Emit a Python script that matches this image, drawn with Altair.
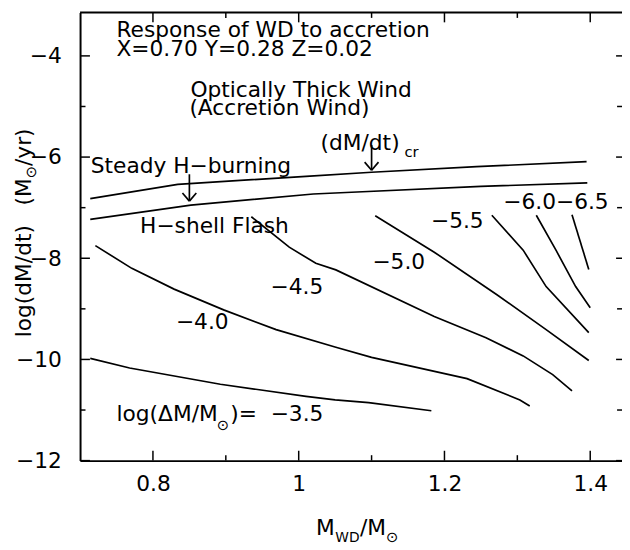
import altair as alt
import pandas as pd

# ---------------- data ----------------
crit_x = [0.714, 0.834, 1.010, 1.100, 1.244, 1.395]
crit_y = [-6.82, -6.54, -6.38, -6.30, -6.19, -6.09]

steady_x = [0.714, 0.852, 1.020, 1.080, 1.250, 1.396]
steady_y = [-7.23, -6.95, -6.73, -6.69, -6.58, -6.51]

c35_x = [0.714, 0.768, 0.8925, 1.010, 1.050, 1.096, 1.182]
c35_y = [-9.98, -10.17, -10.49, -10.73, -10.80, -10.855, -11.015]

c40_x = [0.721, 0.771, 0.829, 0.897, 0.969, 1.051, 1.100, 1.231, 1.3035, 1.317]
c40_y = [-7.75, -8.20, -8.61, -9.02, -9.41, -9.76, -9.96, -10.38, -10.80, -10.92]

c45_x = [0.935, 0.987, 1.0235, 1.051, 1.186, 1.257, 1.308, 1.3485, 1.375]
c45_y = [-7.18, -7.78, -8.10, -8.23, -9.15, -9.57, -9.93, -10.30, -10.62]

c50_x = [1.105, 1.186, 1.272, 1.3395, 1.398]
c50_y = [-7.16, -7.88, -8.72, -9.41, -10.02]

c55_x = [1.265, 1.308, 1.3395, 1.398]
c55_y = [-7.15, -7.84, -8.56, -9.47]

c60_x = [1.326, 1.353, 1.380, 1.400]
c60_y = [-7.15, -7.84, -8.56, -8.98]

c65_x = [1.375, 1.398]
c65_y = [-7.14, -8.22]

level_text = ["\u22124.0", "\u22124.5", "\u22125.0", "\u22125.5", "\u22126.0\u22126.5"]
level_x = [0.8677, 0.9975, 1.1373, 1.2176, 1.353]
level_y = [-9.27, -8.575, -8.07, -7.27, -6.89]

x_major = [0.8, 1.0, 1.2, 1.4]
x_minor = [0.9, 1.1, 1.3]
y_major = [-12, -10, -8, -6, -4]
y_minor = [-11, -9, -7, -5]

# ---------------- tables ----------------
curves = {
    "crit": (crit_x, crit_y), "steady": (steady_x, steady_y),
    "c35": (c35_x, c35_y), "c40": (c40_x, c40_y), "c45": (c45_x, c45_y),
    "c50": (c50_x, c50_y), "c55": (c55_x, c55_y), "c60": (c60_x, c60_y),
    "c65": (c65_x, c65_y),
}
rows = []
for name, (xs_, ys_) in curves.items():
    for i, (a, b) in enumerate(zip(xs_, ys_)):
        rows.append({"curve": name, "order": i, "x": a, "y": b})
df_lines = pd.DataFrame(rows)

# arrows: (x, y_start, y_tip)
ARROWS = [(0.85, -6.34, -6.87), (1.10, -5.76, -6.26)]
HEAD_DX, HEAD_DY = 0.0095, 0.16
seg = []
for ax_, y0_, y1_ in ARROWS:
    seg.append({"x": ax_, "x2": ax_, "y": y0_, "y2": y1_})
    seg.append({"x": ax_, "x2": ax_ - HEAD_DX, "y": y1_, "y2": y1_ + HEAD_DY})
    seg.append({"x": ax_, "x2": ax_ + HEAD_DX, "y": y1_, "y2": y1_ + HEAD_DY})
df_arrows = pd.DataFrame(seg)

FS = 22
SUB = 15
ann = pd.DataFrame([
    {"t": "Response of WD to accretion", "x": 0.750, "y": -3.62, "fs": FS},
    {"t": "X=0.70 Y=0.28 Z=0.02", "x": 0.750, "y": -4.00, "fs": FS},
    {"t": "Optically Thick Wind", "x": 0.8515, "y": -4.81, "fs": FS},
    {"t": "(Accretion Wind)", "x": 0.850, "y": -5.17, "fs": FS},
    {"t": "(dM/dt)", "x": 1.030, "y": -5.87, "fs": FS},
    {"t": "cr", "x": 1.145, "y": -5.99, "fs": SUB},
    {"t": "Steady H\u2212burning", "x": 0.7147, "y": -6.32, "fs": FS},
    {"t": "H\u2212shell Flash", "x": 0.7824, "y": -7.51, "fs": FS},
    {"t": "log(\u0394M/M", "x": 0.750, "y": -11.22, "fs": FS},
    {"t": "\u2299", "x": 0.8875, "y": -11.40, "fs": SUB},
    {"t": ")=\u00a0\u00a0\u22123.5", "x": 0.906, "y": -11.22, "fs": FS},
])
df_levels = pd.DataFrame({"t": level_text, "x": level_x, "y": level_y})

# ---------------- layout ----------------
W, H = 549, 454
PX_PER_X = 738.3
PX_PER_Y = 51.25
X0 = 0.70
X1 = X0 + W / PX_PER_X
Y0 = -12.0
Y1 = Y0 + H / PX_PER_Y
FONT = "DejaVu Sans"

xs = alt.Scale(domain=[X0, X1], nice=False, zero=False)
ys = alt.Scale(domain=[Y0, Y1], nice=False, zero=False)

xaxis = alt.Axis(values=x_major, format="~g", ticks=False, tickSize=0, domain=True,
                 domainColor="black", domainWidth=2,
                 grid=False, labelFont=FONT, labelFontSize=FS, labelColor="black",
                 labelPadding=13, labelFlush=False, title=None)
yaxis = alt.Axis(values=y_major, format="d", ticks=False, tickSize=0, domain=True,
                 domainColor="black", domainWidth=2,
                 grid=False, labelFont=FONT, labelFontSize=FS, labelColor="black",
                 labelPadding=19, labelFlush=False, title=None)

X = lambda f: alt.X(f, scale=xs, axis=xaxis)
Y = lambda f: alt.Y(f, scale=ys, axis=yaxis)

lines = alt.Chart(df_lines).mark_line(color="black", strokeWidth=1.7).encode(
    x=X("x:Q"), y=Y("y:Q"), detail="curve:N", order="order:Q")

arrows = alt.Chart(df_arrows).mark_rule(color="black", strokeWidth=1.7).encode(
    x=X("x:Q"), x2="x2:Q", y=Y("y:Q"), y2="y2:Q")

texts = alt.Chart(ann).mark_text(align="left", baseline="alphabetic", font=FONT,
                                 color="black").encode(
    x=X("x:Q"), y=Y("y:Q"), text="t:N", size=alt.Size("fs:Q", scale=None, legend=None))

levels = alt.Chart(df_levels).mark_text(align="center", baseline="middle", font=FONT,
                                        fontSize=FS, color="black").encode(
    x=X("x:Q"), y=Y("y:Q"), text="t:N")

# top frame line (the right frame lies just beyond the picture's edge)
one = pd.DataFrame({"a": [0]})
top_frame = alt.Chart(one).mark_rule(color="black", strokeWidth=2).encode(
    x=alt.value(0), x2=alt.value(W + 6), y=alt.value(0))

MAJ, MIN = 10, 5.5
tick_layers = []
for vals, ln, rvis in ((x_major, MAJ, 6), (x_minor, MIN, 5)):
    d = pd.DataFrame({"x": vals})
    tick_layers.append(alt.Chart(d).mark_rule(color="black", strokeWidth=1.5).encode(
        x=X("x:Q"), y=alt.value(H), y2=alt.value(H - ln)))
    tick_layers.append(alt.Chart(d).mark_rule(color="black", strokeWidth=1.5).encode(
        x=X("x:Q"), y=alt.value(0), y2=alt.value(ln)))
for vals, ln, rvis in ((y_major, MAJ, 6), (y_minor, MIN, 5)):
    d = pd.DataFrame({"y": vals})
    tick_layers.append(alt.Chart(d).mark_rule(color="black", strokeWidth=1.5).encode(
        y=Y("y:Q"), x=alt.value(0), x2=alt.value(ln)))
    tick_layers.append(alt.Chart(d).mark_rule(color="black", strokeWidth=1.5).encode(
        y=Y("y:Q"), x=alt.value(W + 4), x2=alt.value(W - rvis)))


def piece(txt, px, py, size, angle=0):
    return alt.Chart(one).mark_text(text=txt, align="left", baseline="alphabetic",
                                    font=FONT, fontSize=size, angle=angle,
                                    color="black").encode(x=alt.value(px), y=alt.value(py))


# axis titles with subscripts (pixel positions relative to the plot area)
titles = [
    piece("M", 239, 529, FS),
    piece("WD", 258.5, 536, 14),
    piece("/M", 283.5, 529, FS),
    piece("\u2299", 310, 536, SUB),
    piece("log(dM/dt)", -50, 329, FS, 270),
    piece("(M", -50, 195.5, FS, 270),
    piece("\u2299", -45, 168, SUB, 270),
    piece("/yr)", -50, 155.5, FS, 270),
]

chart = alt.layer(lines, arrows, texts, levels, top_frame, *tick_layers, *titles).properties(
    width=W, height=H,
    autosize=alt.AutoSizeParams(type="none"),
    padding={"left": 73, "top": 1, "right": 0, "bottom": 85},
).configure_view(strokeWidth=0)

chart.save("out.html", embed_options={"renderer": "svg", "actions": False})
